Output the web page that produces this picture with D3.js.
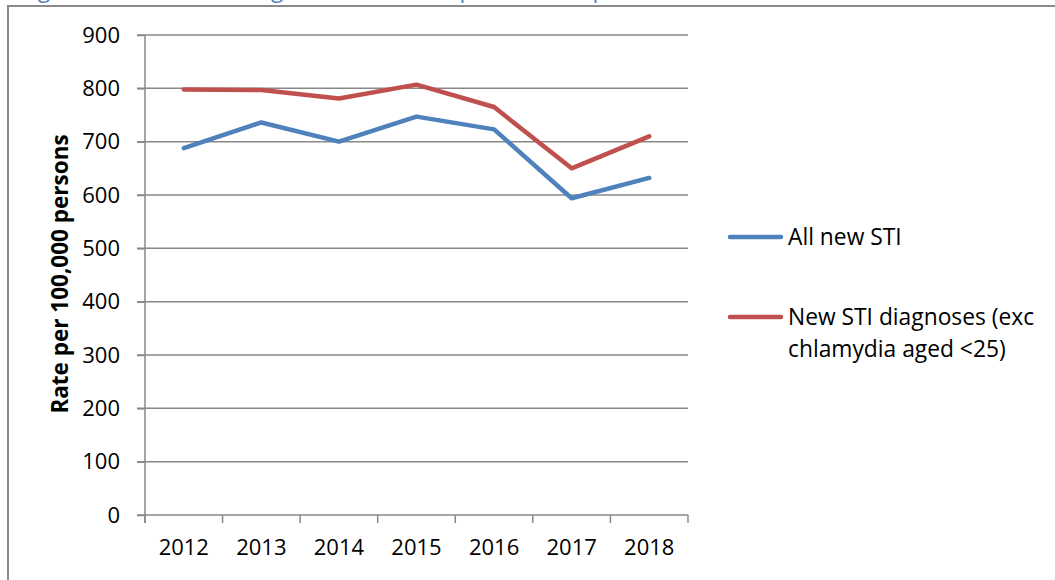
<!DOCTYPE html>
<html>
<head>
<meta charset="utf-8">
<script src="https://cdn.jsdelivr.net/npm/d3@7"></script>
<style>
  html, body { margin: 0; padding: 0; background: #fff; }
  svg { display: block; }
  text { font-family: "Open Sans", "Noto Sans", sans-serif; fill: #000; }
</style>
</head>
<body>
<svg id="chart" width="1055" height="580"></svg>
<script>
// Rates per 100,000 persons, by year
const years = ["2012", "2013", "2014", "2015", "2016", "2017", "2018"];
const allNewSTI = [688, 736, 700, 747, 723, 594, 632];
const newSTIExcChlamydia = [798, 797, 781, 807, 765, 650, 710];
const yTickValues = [0, 100, 200, 300, 400, 500, 600, 700, 800, 900];
const seriesNames = ["All new STI", "New STI diagnoses (exc|chlamydia aged <25)"];
const seriesColors = ["#4F81BD", "#C0504D"];

const svg = d3.select("#chart");
const gridColor = "#888888";

// Outer frame of the figure box (runs off the right and bottom edges)
svg.append("path")
  .attr("d", "M8,580 V6 H1055")
  .attr("fill", "none")
  .attr("stroke", "#8a8a8a")
  .attr("stroke-width", 2);

// Figure caption, mostly above the visible area
svg.append("text")
  .attr("x", 20)
  .attr("y", -3)
  .attr("font-size", 23)
  .style("fill", "#4F81BD")
  .text("Figure 1: All new STI diagnoses and rates per 100,000 persons, 2012 to 2018");

const x = d3.scaleBand().domain(years).range([145, 688]);
const y = d3.scaleLinear().domain([0, 900]).range([515, 35]);
const cx = d => x(d) + x.bandwidth() / 2;

// Horizontal gridlines
svg.append("g")
  .selectAll("line")
  .data(yTickValues)
  .join("line")
  .attr("x1", 137)
  .attr("x2", 688)
  .attr("y1", d => y(d))
  .attr("y2", d => y(d))
  .attr("stroke", gridColor)
  .attr("stroke-width", 1.5);

// Y axis
const yAxis = svg.append("g")
  .attr("transform", "translate(145,0)")
  .call(d3.axisLeft(y).tickValues(yTickValues).tickSize(8).tickPadding(17));
yAxis.select(".domain").remove();
yAxis.selectAll(".tick line").attr("stroke", gridColor).attr("stroke-width", 1.5);
yAxis.selectAll(".tick text")
  .attr("font-size", 22)
  .attr("font-family", "'Open Sans', sans-serif")
  .attr("fill", "#000");

svg.append("line")
  .attr("x1", 145).attr("x2", 145)
  .attr("y1", y(900)).attr("y2", y(0) + 8)
  .attr("stroke", gridColor)
  .attr("stroke-width", 1.5);

// X axis: ticks at category boundaries, labels centred in each band
const xAxis = svg.append("g")
  .attr("transform", `translate(0,${y(0)})`)
  .call(d3.axisBottom(x).tickSize(0).tickPadding(24));
xAxis.select(".domain").remove();
xAxis.selectAll(".tick text")
  .attr("font-size", 22)
  .attr("font-family", "'Open Sans', sans-serif")
  .attr("fill", "#000");

const boundaries = years.map(d => x(d)).concat([x.range()[1]]);
svg.append("g")
  .selectAll("line")
  .data(boundaries)
  .join("line")
  .attr("x1", d => d).attr("x2", d => d)
  .attr("y1", y(0)).attr("y2", y(0) + 8)
  .attr("stroke", gridColor)
  .attr("stroke-width", 1.5);

// Y axis title
svg.append("text")
  .attr("transform", `translate(68,${(y(0) + y(900)) / 2 - 1}) rotate(-90)`)
  .attr("text-anchor", "middle")
  .attr("font-size", 22.5)
  .attr("font-weight", "bold")
  .text("Rate per 100,000 persons");

// Series lines
const line = d3.line()
  .x((v, i) => cx(years[i]))
  .y(v => y(v));

[allNewSTI, newSTIExcChlamydia].forEach((vals, i) => {
  svg.append("path")
    .datum(vals)
    .attr("d", line)
    .attr("fill", "none")
    .attr("stroke", seriesColors[i])
    .attr("stroke-width", 4.5)
    .attr("stroke-linejoin", "round")
    .attr("stroke-linecap", "round");
});

// Legend
const legendY = [237, 317];
const legend = svg.append("g");
seriesNames.forEach((name, i) => {
  legend.append("line")
    .attr("x1", 730).attr("x2", 781)
    .attr("y1", legendY[i]).attr("y2", legendY[i])
    .attr("stroke", seriesColors[i])
    .attr("stroke-width", 4.5)
    .attr("stroke-linecap", "round");
  const t = legend.append("text")
    .attr("x", 788)
    .attr("y", legendY[i] + 8)
    .attr("font-size", 22.8);
  name.split("|").forEach((part, j) => {
    t.append("tspan")
      .attr("x", 788)
      .attr("dy", j === 0 ? 0 : 32)
      .text(part);
  });
});
</script>
</body>
</html>
